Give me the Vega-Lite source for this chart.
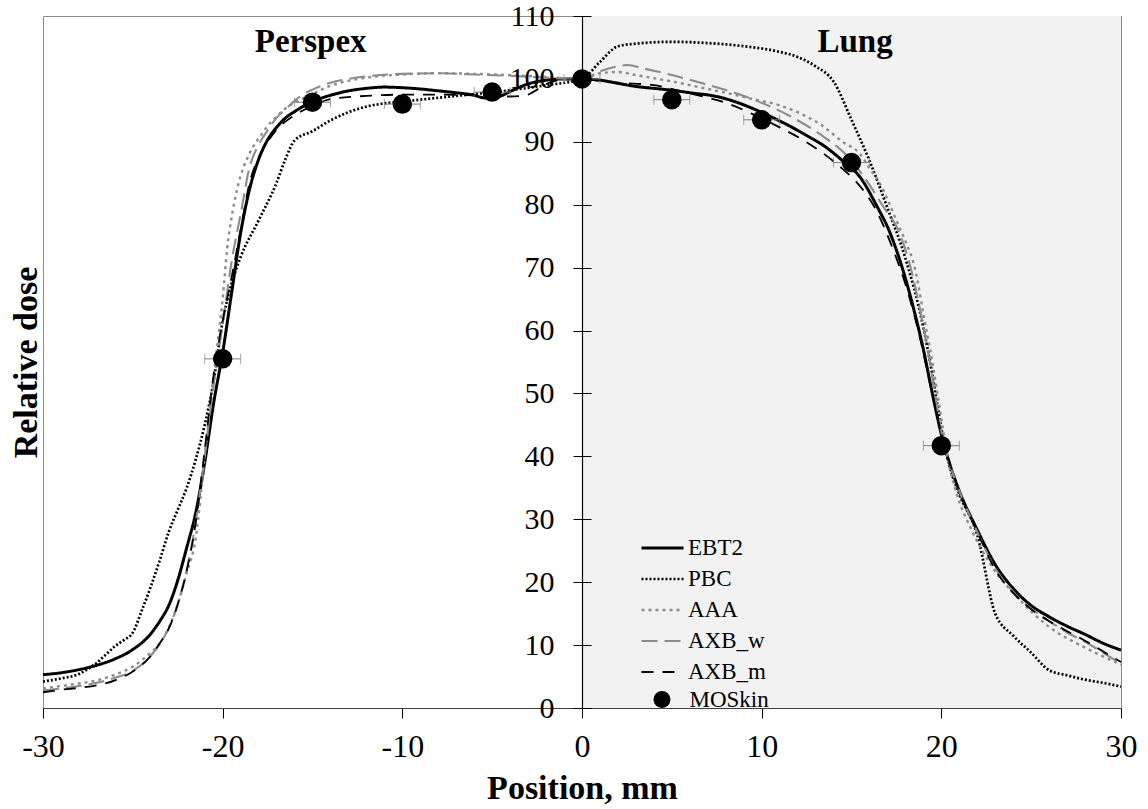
{
  "$schema": "https://vega.github.io/schema/vega-lite/v6.json",
  "width": 1078,
  "height": 692,
  "autosize": {"type": "none"},
  "padding": {"left": 43, "top": 16, "right": 27, "bottom": 101},
  "background": "white",
  "config": {
    "view": {"stroke": "#8a8a8a", "strokeWidth": 1},
    "font": "Liberation Serif",
    "axis": {"grid": false}
  },
  "datasets": {
    "curves": [
      {"s":"EBT2","x":-30,"y":5.3},{"s":"EBT2","x":-29,"y":5.6},{"s":"EBT2","x":-28,"y":6.1},{"s":"EBT2","x":-27,"y":6.8},{"s":"EBT2","x":-26,"y":7.8},{"s":"EBT2","x":-25,"y":9.3},{"s":"EBT2","x":-24,"y":11.8},{"s":"EBT2","x":-23.5,"y":13.8},{"s":"EBT2","x":-23,"y":16.3},{"s":"EBT2","x":-22.5,"y":20.3},{"s":"EBT2","x":-22,"y":25.5},{"s":"EBT2","x":-21.5,"y":31},{"s":"EBT2","x":-21,"y":39},{"s":"EBT2","x":-20.5,"y":48.5},{"s":"EBT2","x":-20,"y":56.5},{"s":"EBT2","x":-19.5,"y":66},{"s":"EBT2","x":-19,"y":75.5},{"s":"EBT2","x":-18.5,"y":82.5},{"s":"EBT2","x":-18,"y":87.2},{"s":"EBT2","x":-17.5,"y":90.3},{"s":"EBT2","x":-17,"y":92.3},{"s":"EBT2","x":-16.5,"y":93.8},{"s":"EBT2","x":-16,"y":94.8},{"s":"EBT2","x":-15,"y":96.4},{"s":"EBT2","x":-14,"y":97.4},{"s":"EBT2","x":-13,"y":98.1},{"s":"EBT2","x":-12,"y":98.5},{"s":"EBT2","x":-11,"y":98.7},{"s":"EBT2","x":-10,"y":98.6},{"s":"EBT2","x":-9,"y":98.4},{"s":"EBT2","x":-8,"y":98.1},{"s":"EBT2","x":-7,"y":97.8},{"s":"EBT2","x":-6,"y":97.4},{"s":"EBT2","x":-5.5,"y":97.0},{"s":"EBT2","x":-5,"y":96.9},{"s":"EBT2","x":-4.5,"y":97.3},{"s":"EBT2","x":-4,"y":98.0},{"s":"EBT2","x":-3,"y":99.2},{"s":"EBT2","x":-2,"y":99.8},{"s":"EBT2","x":-1,"y":100},{"s":"EBT2","x":0,"y":100},{"s":"EBT2","x":1,"y":99.8},{"s":"EBT2","x":2,"y":99.3},{"s":"EBT2","x":3,"y":98.8},{"s":"EBT2","x":4,"y":98.5},{"s":"EBT2","x":5,"y":98.2},{"s":"EBT2","x":6,"y":97.8},{"s":"EBT2","x":7.5,"y":97.2},{"s":"EBT2","x":8.5,"y":96.4},{"s":"EBT2","x":9.5,"y":95.3},{"s":"EBT2","x":10.5,"y":94},{"s":"EBT2","x":11.5,"y":92.6},{"s":"EBT2","x":12.5,"y":91},{"s":"EBT2","x":13.5,"y":89.3},{"s":"EBT2","x":14.5,"y":87},{"s":"EBT2","x":15.5,"y":84.3},{"s":"EBT2","x":16.5,"y":79.3},{"s":"EBT2","x":17,"y":76.5},{"s":"EBT2","x":17.5,"y":72.8},{"s":"EBT2","x":18,"y":68.3},{"s":"EBT2","x":18.5,"y":63},{"s":"EBT2","x":19,"y":57},{"s":"EBT2","x":19.5,"y":50},{"s":"EBT2","x":20,"y":43.5},{"s":"EBT2","x":20.5,"y":38.5},{"s":"EBT2","x":21,"y":34.5},{"s":"EBT2","x":22,"y":28.3},{"s":"EBT2","x":23,"y":22.8},{"s":"EBT2","x":24,"y":19},{"s":"EBT2","x":25,"y":16.3},{"s":"EBT2","x":26,"y":14.5},{"s":"EBT2","x":27,"y":13},{"s":"EBT2","x":28,"y":11.7},{"s":"EBT2","x":29,"y":10.3},{"s":"EBT2","x":30,"y":9.2},

      {"s":"PBC","x":-30,"y":4.2},{"s":"PBC","x":-29,"y":4.7},{"s":"PBC","x":-28,"y":5.4},{"s":"PBC","x":-27.5,"y":6.2},{"s":"PBC","x":-27,"y":7.2},{"s":"PBC","x":-26.5,"y":8.5},{"s":"PBC","x":-26,"y":9.8},{"s":"PBC","x":-25.5,"y":10.8},{"s":"PBC","x":-25,"y":12},{"s":"PBC","x":-24.5,"y":15.5},{"s":"PBC","x":-24,"y":19.3},{"s":"PBC","x":-23.5,"y":23.5},{"s":"PBC","x":-23,"y":28},{"s":"PBC","x":-22.5,"y":31.5},{"s":"PBC","x":-22,"y":35},{"s":"PBC","x":-21.5,"y":39.5},{"s":"PBC","x":-21,"y":45},{"s":"PBC","x":-20.5,"y":52},{"s":"PBC","x":-20,"y":61.5},{"s":"PBC","x":-19.5,"y":67.5},{"s":"PBC","x":-19,"y":71.7},{"s":"PBC","x":-18,"y":77.5},{"s":"PBC","x":-17,"y":83.5},{"s":"PBC","x":-16.5,"y":87.3},{"s":"PBC","x":-16,"y":90.2},{"s":"PBC","x":-15,"y":91.7},{"s":"PBC","x":-14,"y":93.4},{"s":"PBC","x":-13,"y":94.7},{"s":"PBC","x":-12,"y":95.6},{"s":"PBC","x":-11,"y":96.1},{"s":"PBC","x":-10,"y":96.4},{"s":"PBC","x":-8,"y":97},{"s":"PBC","x":-6,"y":97.6},{"s":"PBC","x":-4,"y":98.2},{"s":"PBC","x":-2,"y":99},{"s":"PBC","x":0,"y":100},{"s":"PBC","x":1,"y":102.7},{"s":"PBC","x":2,"y":105.2},{"s":"PBC","x":3,"y":105.6},{"s":"PBC","x":5,"y":105.9},{"s":"PBC","x":7,"y":105.7},{"s":"PBC","x":9,"y":105.2},{"s":"PBC","x":11,"y":104.3},{"s":"PBC","x":12,"y":103.5},{"s":"PBC","x":13,"y":102},{"s":"PBC","x":14,"y":99.6},{"s":"PBC","x":15,"y":93.5},{"s":"PBC","x":16,"y":87},{"s":"PBC","x":17,"y":79.5},{"s":"PBC","x":18,"y":71.5},{"s":"PBC","x":19,"y":60.5},{"s":"PBC","x":19.5,"y":53},{"s":"PBC","x":20,"y":44.5},{"s":"PBC","x":20.5,"y":38},{"s":"PBC","x":21,"y":34},{"s":"PBC","x":22,"y":27.5},{"s":"PBC","x":23,"y":15},{"s":"PBC","x":24,"y":11.5},{"s":"PBC","x":25,"y":8.8},{"s":"PBC","x":26,"y":6},{"s":"PBC","x":27,"y":5.2},{"s":"PBC","x":28,"y":4.5},{"s":"PBC","x":29,"y":4},{"s":"PBC","x":30,"y":3.4},

      {"s":"AAA","x":-30,"y":3.1},{"s":"AAA","x":-29,"y":3.5},{"s":"AAA","x":-28,"y":3.9},{"s":"AAA","x":-27,"y":4.4},{"s":"AAA","x":-26,"y":5.3},{"s":"AAA","x":-25,"y":6.6},{"s":"AAA","x":-24.5,"y":7.6},{"s":"AAA","x":-24,"y":8.8},{"s":"AAA","x":-23.5,"y":10.3},{"s":"AAA","x":-23,"y":12.8},{"s":"AAA","x":-22.5,"y":16.5},{"s":"AAA","x":-22,"y":21.5},{"s":"AAA","x":-21.5,"y":27},{"s":"AAA","x":-21,"y":40},{"s":"AAA","x":-20.5,"y":53},{"s":"AAA","x":-20.2,"y":60},{"s":"AAA","x":-20,"y":65},{"s":"AAA","x":-19.75,"y":73},{"s":"AAA","x":-19.5,"y":78},{"s":"AAA","x":-19.2,"y":82.4},{"s":"AAA","x":-18.5,"y":88.2},{"s":"AAA","x":-18,"y":90.5},{"s":"AAA","x":-17.5,"y":92.5},{"s":"AAA","x":-17,"y":94},{"s":"AAA","x":-16.5,"y":95.3},{"s":"AAA","x":-16,"y":96.2},{"s":"AAA","x":-15,"y":97.6},{"s":"AAA","x":-14,"y":98.9},{"s":"AAA","x":-13,"y":99.7},{"s":"AAA","x":-12,"y":100.2},{"s":"AAA","x":-10,"y":100.7},{"s":"AAA","x":-8,"y":100.9},{"s":"AAA","x":-6,"y":100.8},{"s":"AAA","x":-4,"y":100.6},{"s":"AAA","x":-2,"y":100.3},{"s":"AAA","x":0,"y":100},{"s":"AAA","x":1,"y":100.9},{"s":"AAA","x":2,"y":101.1},{"s":"AAA","x":3,"y":100.6},{"s":"AAA","x":5,"y":99.6},{"s":"AAA","x":6.5,"y":98.7},{"s":"AAA","x":8,"y":97.8},{"s":"AAA","x":9.5,"y":96.8},{"s":"AAA","x":11,"y":95.8},{"s":"AAA","x":12.3,"y":94.3},{"s":"AAA","x":13.3,"y":92.7},{"s":"AAA","x":14.5,"y":90},{"s":"AAA","x":15.5,"y":88},{"s":"AAA","x":16,"y":85.8},{"s":"AAA","x":16.6,"y":83.3},{"s":"AAA","x":17.1,"y":80.2},{"s":"AAA","x":17.5,"y":77.5},{"s":"AAA","x":17.9,"y":74.9},{"s":"AAA","x":18.6,"y":69},{"s":"AAA","x":19,"y":62.7},{"s":"AAA","x":19.5,"y":55},{"s":"AAA","x":20,"y":46},{"s":"AAA","x":20.3,"y":40.5},{"s":"AAA","x":20.85,"y":34.1},{"s":"AAA","x":21.6,"y":28.8},{"s":"AAA","x":22.7,"y":23},{"s":"AAA","x":24.2,"y":17.7},{"s":"AAA","x":26,"y":12.9},{"s":"AAA","x":28,"y":9.6},{"s":"AAA","x":30,"y":6.9},

      {"s":"AXB_w","x":-30,"y":2.8},{"s":"AXB_w","x":-29,"y":3.1},{"s":"AXB_w","x":-28,"y":3.5},{"s":"AXB_w","x":-27,"y":4},{"s":"AXB_w","x":-26,"y":4.8},{"s":"AXB_w","x":-25,"y":5.9},{"s":"AXB_w","x":-24,"y":8.3},{"s":"AXB_w","x":-23.5,"y":10.2},{"s":"AXB_w","x":-23,"y":12.7},{"s":"AXB_w","x":-22.5,"y":16.5},{"s":"AXB_w","x":-22,"y":22},{"s":"AXB_w","x":-21.5,"y":29.5},{"s":"AXB_w","x":-21,"y":40},{"s":"AXB_w","x":-20.5,"y":51.5},{"s":"AXB_w","x":-20,"y":61},{"s":"AXB_w","x":-19.5,"y":71},{"s":"AXB_w","x":-19,"y":78.5},{"s":"AXB_w","x":-18.5,"y":86},{"s":"AXB_w","x":-18,"y":89.5},{"s":"AXB_w","x":-17.5,"y":91.8},{"s":"AXB_w","x":-17,"y":93.8},{"s":"AXB_w","x":-16.5,"y":95.2},{"s":"AXB_w","x":-16,"y":96.5},{"s":"AXB_w","x":-15.5,"y":97.6},{"s":"AXB_w","x":-15,"y":98.3},{"s":"AXB_w","x":-14,"y":99.4},{"s":"AXB_w","x":-13,"y":100},{"s":"AXB_w","x":-12,"y":100.4},{"s":"AXB_w","x":-10,"y":100.8},{"s":"AXB_w","x":-8,"y":100.9},{"s":"AXB_w","x":-6,"y":100.7},{"s":"AXB_w","x":-4,"y":100.5},{"s":"AXB_w","x":-2,"y":100.2},{"s":"AXB_w","x":0,"y":100},{"s":"AXB_w","x":1,"y":101.2},{"s":"AXB_w","x":2,"y":102},{"s":"AXB_w","x":2.5,"y":102.2},{"s":"AXB_w","x":3.5,"y":101.6},{"s":"AXB_w","x":4.6,"y":100.9},{"s":"AXB_w","x":6.7,"y":99.3},{"s":"AXB_w","x":9.1,"y":97.2},{"s":"AXB_w","x":11.5,"y":94.2},{"s":"AXB_w","x":13.6,"y":90.5},{"s":"AXB_w","x":14.5,"y":88.5},{"s":"AXB_w","x":15.5,"y":85.2},{"s":"AXB_w","x":16.7,"y":80},{"s":"AXB_w","x":17.7,"y":75.3},{"s":"AXB_w","x":18.4,"y":68.8},{"s":"AXB_w","x":18.8,"y":63.5},{"s":"AXB_w","x":19.3,"y":56},{"s":"AXB_w","x":19.7,"y":49},{"s":"AXB_w","x":20,"y":44},{"s":"AXB_w","x":20.5,"y":38.5},{"s":"AXB_w","x":21,"y":34.5},{"s":"AXB_w","x":22,"y":28},{"s":"AXB_w","x":23,"y":22.2},{"s":"AXB_w","x":24,"y":18.5},{"s":"AXB_w","x":25,"y":15.8},{"s":"AXB_w","x":26,"y":13.8},{"s":"AXB_w","x":27,"y":12},{"s":"AXB_w","x":28,"y":10.5},{"s":"AXB_w","x":29,"y":8.8},{"s":"AXB_w","x":30,"y":7},

      {"s":"AXB_m","x":-30,"y":2.5},{"s":"AXB_m","x":-29,"y":2.9},{"s":"AXB_m","x":-28,"y":3.2},{"s":"AXB_m","x":-27,"y":3.6},{"s":"AXB_m","x":-26,"y":4.4},{"s":"AXB_m","x":-25,"y":5.8},{"s":"AXB_m","x":-24,"y":8.3},{"s":"AXB_m","x":-23.5,"y":10.3},{"s":"AXB_m","x":-23,"y":12.6},{"s":"AXB_m","x":-22.5,"y":16.5},{"s":"AXB_m","x":-22,"y":21.8},{"s":"AXB_m","x":-21.5,"y":29.5},{"s":"AXB_m","x":-21,"y":41},{"s":"AXB_m","x":-20.5,"y":53},{"s":"AXB_m","x":-20,"y":61.5},{"s":"AXB_m","x":-19.5,"y":68.5},{"s":"AXB_m","x":-19,"y":76},{"s":"AXB_m","x":-18.5,"y":83.5},{"s":"AXB_m","x":-18,"y":87.5},{"s":"AXB_m","x":-17.5,"y":90},{"s":"AXB_m","x":-17,"y":91.9},{"s":"AXB_m","x":-16,"y":94.2},{"s":"AXB_m","x":-15,"y":95.7},{"s":"AXB_m","x":-14,"y":96.8},{"s":"AXB_m","x":-12,"y":97.3},{"s":"AXB_m","x":-10,"y":97.5},{"s":"AXB_m","x":-8,"y":97.5},{"s":"AXB_m","x":-6,"y":97.4},{"s":"AXB_m","x":-4,"y":97.2},{"s":"AXB_m","x":-3,"y":97.5},{"s":"AXB_m","x":-2.5,"y":98.3},{"s":"AXB_m","x":-2,"y":99.2},{"s":"AXB_m","x":-1,"y":99.9},{"s":"AXB_m","x":0,"y":100},{"s":"AXB_m","x":1,"y":99.7},{"s":"AXB_m","x":2,"y":99.4},{"s":"AXB_m","x":4,"y":99},{"s":"AXB_m","x":6,"y":97.7},{"s":"AXB_m","x":7,"y":97},{"s":"AXB_m","x":8,"y":96.2},{"s":"AXB_m","x":9.5,"y":94.4},{"s":"AXB_m","x":11,"y":92.3},{"s":"AXB_m","x":12.3,"y":90.3},{"s":"AXB_m","x":13.5,"y":88},{"s":"AXB_m","x":14.3,"y":86.2},{"s":"AXB_m","x":15.6,"y":82.5},{"s":"AXB_m","x":16.3,"y":79.5},{"s":"AXB_m","x":17.3,"y":73},{"s":"AXB_m","x":18.2,"y":65.5},{"s":"AXB_m","x":18.8,"y":59},{"s":"AXB_m","x":19.3,"y":52.5},{"s":"AXB_m","x":19.8,"y":46},{"s":"AXB_m","x":20.3,"y":40.5},{"s":"AXB_m","x":21,"y":34.5},{"s":"AXB_m","x":22,"y":28},{"s":"AXB_m","x":23,"y":22},{"s":"AXB_m","x":24,"y":18.3},{"s":"AXB_m","x":25,"y":15.7},{"s":"AXB_m","x":26,"y":13.8},{"s":"AXB_m","x":27,"y":12.2},{"s":"AXB_m","x":28,"y":10.7},{"s":"AXB_m","x":29,"y":9},{"s":"AXB_m","x":30,"y":7.3}
    ],
    "moskin": [
      {"src":"MOSkin","x":-20,"y":55.5,"e":1},
      {"src":"MOSkin","x":-15,"y":96.3,"e":1},
      {"src":"MOSkin","x":-10,"y":96.0,"e":1},
      {"src":"MOSkin","x":-5,"y":97.9,"e":1},
      {"src":"MOSkin","x":0,"y":100,"e":1},
      {"src":"MOSkin","x":5,"y":96.7,"e":1},
      {"src":"MOSkin","x":10,"y":93.5,"e":1},
      {"src":"MOSkin","x":15,"y":86.7,"e":1},
      {"src":"MOSkin","x":20,"y":41.7,"e":1}
    ],
    "regions": [
      {"t":"Perspex","x":-15.1,"y":104.3},
      {"t":"Lung","x":15.2,"y":104.3}
    ]
  },
  "resolve": {"axis": {"y": "independent"}},
  "layer": [
    {
      "data": {"values": [{}]},
      "mark": {"type": "rect", "fill": "#f2f2f2"},
      "encoding": {
        "x": {"datum": 0, "type": "quantitative", "scale": {"domain": [-30, 30], "nice": false, "zero": false}, "title": "Position, mm"},
        "x2": {"datum": 30}
      }
    },
    {
      "data": {"name": "curves"},
      "mark": {"type": "line", "strokeCap": "butt", "strokeJoin": "round", "interpolate": "monotone"},
      "encoding": {
        "x": {
          "field": "x", "type": "quantitative",
          "scale": {"domain": [-30, 30], "nice": false, "zero": false},
          "title": "Position, mm",
          "axis": {
            "orient": "bottom", "values": [-30, -20, -10, 0, 10, 20, 30],
            "tickSize": 10, "tickColor": "#000", "domainColor": "#404040", "domainWidth": 1.2,
            "labelPadding": 13, "labelFontSize": 32, "labelFlush": false, "labelFont": "Liberation Serif",
            "labelColor": "#000", "labelExpr": "'' + datum.value",
            "titleFont": "Liberation Serif", "titleFontSize": 34, "titleFontWeight": "bold", "titleColor": "#000",
            "titlePadding": 9, "zindex": 1
          }
        },
        "y": {
          "field": "y", "type": "quantitative",
          "scale": {"domain": [0, 110], "nice": false, "zero": false},
          "axis": {
            "orient": "left", "offset": -539, "values": [0, 10, 20, 30, 40, 50, 60, 70, 80, 90, 100, 110],
            "tickSize": 9, "tickColor": "#000", "domainColor": "#000", "domainWidth": 1.2,
            "labelPadding": 19, "labelFontSize": 30, "labelFont": "Liberation Serif", "labelColor": "#000",
            "labelFlush": false, "labelOverlap": false,
            "title": "Relative dose", "titleFont": "Liberation Serif", "titleFontSize": 34,
            "titleFontWeight": "bold", "titleColor": "#000",
            "titleX": -556, "titleY": 346, "titleAngle": 270, "titleAlign": "center", "titleBaseline": "middle",
            "zindex": 1
          }
        },
        "color": {
          "field": "s", "type": "nominal",
          "scale": {"domain": ["EBT2", "PBC", "AAA", "AXB_w", "AXB_m"], "range": ["#000000", "#000000", "#8c8c8c", "#8c8c8c", "#000000"]},
          "legend": {
            "orient": "none", "legendX": 597, "legendY": 520.5, "title": null,
            "symbolType": "stroke", "symbolSize": 1764, "clipHeight": 23, "rowPadding": 7,
            "labelOffset": 3, "labelFontSize": 23, "labelFont": "Liberation Serif", "labelColor": "#000", "padding": 0
          }
        },
        "strokeDash": {
          "field": "s", "type": "nominal",
          "scale": {"domain": ["EBT2", "PBC", "AAA", "AXB_w", "AXB_m"], "range": [[1, 0], [2, 2], [3, 4], [16, 7], [12, 9]]}
        },
        "strokeWidth": {
          "field": "s", "type": "nominal",
          "scale": {"domain": ["EBT2", "PBC", "AAA", "AXB_w", "AXB_m"], "range": [3, 1.8, 3.5, 2.5, 3.5]}
        }
      }
    },
    {
      "data": {"name": "moskin"},
      "mark": {"type": "errorbar", "ticks": true, "color": "#808080", "size": 10, "thickness": 1},
      "encoding": {
        "x": {"field": "x", "type": "quantitative", "title": "Position, mm"},
        "xError": {"field": "e"},
        "y": {"field": "y", "type": "quantitative", "axis": null}
      }
    },
    {
      "data": {"name": "moskin"},
      "mark": {"type": "point", "filled": true, "color": "#000", "size": 380, "opacity": 1},
      "encoding": {
        "x": {"field": "x", "type": "quantitative", "title": "Position, mm"},
        "y": {
          "field": "y", "type": "quantitative",
          "axis": {
            "orient": "right", "offset": -539, "values": [0, 10, 20, 30, 40, 50, 60, 70, 80, 90, 100, 110],
            "tickSize": 9, "tickColor": "#000", "labels": false, "domain": false, "title": null, "zindex": 1
          }
        },
        "shape": {
          "field": "src", "type": "nominal",
          "scale": {"range": ["circle"]},
          "legend": {
            "orient": "none", "legendX": 607.5, "legendY": 672, "title": null,
            "symbolSize": 289, "symbolFillColor": "#000", "symbolStrokeColor": "#000",
            "clipHeight": 23, "labelOffset": 16, "labelFontSize": 23, "labelFont": "Liberation Serif",
            "labelColor": "#000", "padding": 0
          }
        }
      }
    },
    {
      "data": {"name": "regions"},
      "mark": {"type": "text", "font": "Liberation Serif", "fontSize": 33, "fontWeight": "bold", "align": "center", "baseline": "alphabetic", "color": "#000"},
      "encoding": {
        "x": {"field": "x", "type": "quantitative", "title": "Position, mm"},
        "y": {"field": "y", "type": "quantitative", "axis": null},
        "text": {"field": "t"}
      }
    }
  ]
}
